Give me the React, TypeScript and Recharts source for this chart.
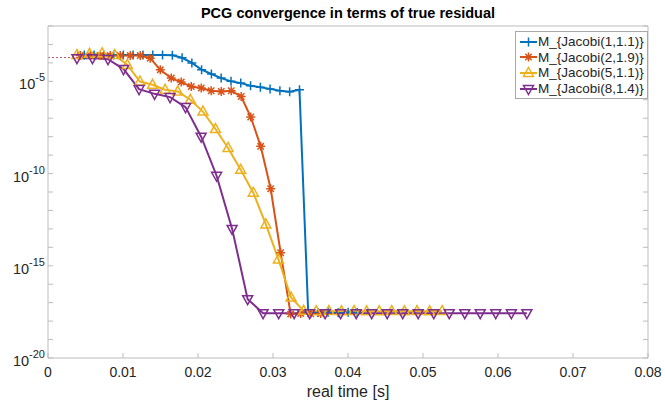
import React from "react";
import { LineChart, Line, XAxis, YAxis, Label } from "recharts";

const X_TICKS = [0, 0.01, 0.02, 0.03, 0.04, 0.05, 0.06, 0.07, 0.08];
const Y_TICKS = [
  1e-20, 1e-19, 1e-18, 1e-17, 1e-16, 1e-15, 1e-14, 1e-13, 1e-12, 1e-11,
  1e-10, 1e-9, 1e-8, 1e-7, 1e-6, 1e-5, 1e-4, 1e-3, 1e-2,
];

// initial residual, dotted
const startT = [0, 0.0039];
const startR = [1.95e-4, 1.95e-4];

const jacobi1T = [
  0.00484, 0.00614, 0.00745, 0.00876, 0.01005, 0.01135, 0.01266, 0.01397, 0.01527, 0.01658,
  0.01788, 0.01918, 0.02048, 0.02179, 0.02309, 0.0244, 0.0257, 0.02701, 0.02832, 0.02961,
  0.03092, 0.03222, 0.03353, 0.03469, 0.03602, 0.03735, 0.03869, 0.04002, 0.04122,
];
const jacobi1R = [
  2.7e-4, 2.7e-4, 2.7e-4, 2.7e-4, 2.7e-4, 2.7e-4, 2.7e-4, 2.7e-4, 2.7e-4, 2.6e-4,
  1.9e-4, 1.0e-4, 4.3e-5, 2.5e-5, 1.5e-5, 1.0e-5, 8e-6, 5.8e-6, 4.8e-6, 3.9e-6,
  3.1e-6, 2.7e-6, 3.5e-6, 3.1e-18, 2.9e-18, 3.0e-18, 2.8e-18, 3.0e-18, 2.9e-18,
];

const jacobi2T = [
  0.0043, 0.00564, 0.00697, 0.0083, 0.00963, 0.01097, 0.0123, 0.01363, 0.01497, 0.01643,
  0.01776, 0.0191, 0.02043, 0.02176, 0.0231, 0.02443, 0.02576, 0.02703, 0.02836, 0.02969,
  0.03102, 0.03236, 0.03369, 0.03502, 0.03635,
];
const jacobi2R = [
  2.5e-4, 2.5e-4, 2.5e-4, 2.5e-4, 2.5e-4, 2.5e-4, 2.5e-4, 1.8e-4, 4.2e-5, 1.5e-5,
  9.1e-6, 5.2e-6, 4.3e-6, 3.1e-6, 2.8e-6, 3.1e-6, 1.5e-6, 1.16e-7, 3.0e-9, 1.5e-11,
  5.1e-15, 2.4e-18, 2.6e-18, 2.5e-18, 2.6e-18,
];

const jacobi5T = [
  0.00386, 0.00554, 0.00722, 0.0089, 0.01058, 0.01226, 0.01394, 0.01562, 0.0173, 0.01898,
  0.02066, 0.02233, 0.02401, 0.02569, 0.02737, 0.02905, 0.03073, 0.03241, 0.03409, 0.03577,
  0.03745, 0.03913, 0.04081, 0.04248, 0.04416, 0.04584, 0.04752, 0.0492, 0.05088, 0.05256,
];
const jacobi5R = [
  2.7e-4, 3.1e-4, 3.3e-4, 2.7e-4, 7.8e-5, 9.8e-6, 6.5e-6, 3.5e-6, 2.8e-6, 1.0e-6,
  2.3e-7, 2.6e-8, 2.45e-9, 1.6e-10, 9.1e-12, 1.75e-13, 2.2e-15, 1.9e-17, 3.6e-18, 3.4e-18,
  3.5e-18, 3.4e-18, 3.5e-18, 3.4e-18, 3.4e-18, 3.5e-18, 3.4e-18, 3.5e-18, 3.4e-18, 3.5e-18,
];

const jacobi8T = [
  0.00386, 0.00593, 0.008, 0.01007, 0.01214, 0.01421, 0.01628, 0.01834, 0.02042, 0.02248,
  0.02455, 0.02662, 0.02868, 0.03076, 0.03282, 0.03489, 0.03695, 0.03902, 0.0411, 0.04316,
  0.04523, 0.0473, 0.04936, 0.05144, 0.0535, 0.05557, 0.05763, 0.0597, 0.06178, 0.06385,
];
const jacobi8R = [
  1.8e-4, 1.8e-4, 1.6e-4, 4.6e-5, 3.8e-6, 2.1e-6, 1.4e-6, 4.0e-7, 1.0e-8, 7.6e-11,
  1.0e-13, 1.55e-17, 2.7e-18, 2.7e-18, 2.7e-18, 2.7e-18, 2.7e-18, 2.7e-18, 2.7e-18, 2.7e-18,
  2.7e-18, 2.7e-18, 2.7e-18, 2.7e-18, 2.7e-18, 2.7e-18, 2.7e-18, 2.7e-18, 2.7e-18, 2.7e-18,
];

const toRows = (t: number[], r: number[]) => t.map((x, i) => ({ t: x, r: r[i] }));

type MarkerKind = "plus" | "star" | "up" | "down";

const SERIES: { name: string; color: string; marker: MarkerKind; data: { t: number; r: number }[] }[] = [
  { name: "M_{Jacobi(1,1.1)}", color: "#0072BD", marker: "plus", data: toRows(jacobi1T, jacobi1R) },
  { name: "M_{Jacobi(2,1.9)}", color: "#D95319", marker: "star", data: toRows(jacobi2T, jacobi2R) },
  { name: "M_{Jacobi(5,1.1)}", color: "#EDB120", marker: "up", data: toRows(jacobi5T, jacobi5R) },
  { name: "M_{Jacobi(8,1.4)}", color: "#7E2F8E", marker: "down", data: toRows(jacobi8T, jacobi8R) },
];

const FONT = "'Liberation Sans', Arial, sans-serif";
const AXIS = "#bdbdbd";
const TEXT = "#262626";

function markerPath(kind: MarkerKind, cx: number, cy: number) {
  const s = 4.5;
  if (kind === "plus") return `M${cx - s},${cy}H${cx + s}M${cx},${cy - s}V${cy + s}`;
  if (kind === "star") {
    const d = 3.2;
    return `M${cx - s},${cy}H${cx + s}M${cx},${cy - s}V${cy + s}M${cx - d},${cy - d}L${cx + d},${cy + d}M${cx - d},${cy + d}L${cx + d},${cy - d}`;
  }
  if (kind === "up") return `M${cx},${cy - 5.5}L${cx + 5},${cy + 3.5}L${cx - 5},${cy + 3.5}Z`;
  return `M${cx},${cy + 5.5}L${cx + 5},${cy - 3.5}L${cx - 5},${cy - 3.5}Z`;
}

const makeDot = (kind: MarkerKind, color: string) => (props: any) => (
  <path
    key={`m-${kind}-${props.index}`}
    d={markerPath(kind, props.cx, props.cy)}
    fill="none"
    stroke={color}
    strokeWidth={1.5}
  />
);

const LeftTick = (props: any) => {
  const { x, y, payload } = props;
  const exp = Math.round(Math.log10(payload.value));
  return (
    <g>
      <line x1={x} x2={x + 5} y1={y} y2={y} stroke={AXIS} />
      {exp % 5 === 0 && (
        <text x={x - 3} y={y + 8} textAnchor="end" fill={TEXT} fontSize={14.5} fontFamily={FONT}>
          10<tspan dy={-8} fontSize={11}>{exp}</tspan>
        </text>
      )}
    </g>
  );
};

const RightTick = (props: any) => (
  <line x1={props.x - 5} x2={props.x} y1={props.y} y2={props.y} stroke={AXIS} />
);

const BottomTick = (props: any) => {
  const { x, y, payload } = props;
  return (
    <g>
      <line x1={x} x2={x} y1={y} y2={y - 5} stroke={AXIS} />
      <text x={x} y={y + 19} textAnchor="middle" fill={TEXT} fontSize={14} fontFamily={FONT}>
        {payload.value}
      </text>
    </g>
  );
};

const TopTick = (props: any) => (
  <line x1={props.x} x2={props.x} y1={props.y} y2={props.y + 5} stroke={AXIS} />
);

function LegendBox() {
  return (
    <div
      style={{
        position: "absolute",
        left: 515,
        top: 31,
        width: 131,
        padding: "2px 0",
        border: "1px solid #a8a8a8",
        background: "#fff",
        fontFamily: FONT,
        fontSize: 13.5,
        color: TEXT,
      }}
    >
      {SERIES.map((s) => (
        <div key={s.name} style={{ display: "flex", alignItems: "center", height: 15.6 }}>
          <svg width={20} height={14} style={{ marginLeft: 2 }}>
            <line x1={2} x2={19} y1={7} y2={7} stroke={s.color} strokeWidth={2} />
            <path d={markerPath(s.marker, 10.5, 7)} fill="none" stroke={s.color} strokeWidth={1.5} />
          </svg>
          <span style={{ whiteSpace: "nowrap" }}>{s.name}</span>
        </div>
      ))}
    </div>
  );
}

export default function App() {
  return (
    <div style={{ position: "absolute", left: 0, top: 0, width: 665, height: 405, background: "#fff" }}>
      <div
        style={{
          position: "absolute",
          left: 48,
          width: 600,
          top: 5,
          textAlign: "center",
          fontFamily: FONT,
          fontWeight: "bold",
          fontSize: 14.5,
          color: "#000",
        }}
      >
        PCG convergence in terms of true residual
      </div>
      <LineChart width={665} height={405} margin={{ top: 25, right: 16, bottom: 7, left: 4 }}>
        <XAxis
          dataKey="t"
          type="number"
          domain={[0, 0.08]}
          ticks={X_TICKS}
          interval={0}
          allowDataOverflow
          height={40}
          tickSize={0}
          tickMargin={0}
          tickLine={false}
          tick={<BottomTick />}
          axisLine={{ stroke: AXIS }}
        >
          <Label value="real time [s]" position="insideBottom" offset={1} fill={TEXT} fontSize={16} fontFamily={FONT} />
        </XAxis>
        <XAxis
          xAxisId="top"
          orientation="top"
          type="number"
          domain={[0, 0.08]}
          ticks={X_TICKS}
          interval={0}
          allowDataOverflow
          height={1}
          tickSize={0}
          tickMargin={0}
          tickLine={false}
          tick={<TopTick />}
          axisLine={{ stroke: AXIS }}
        />
        <YAxis
          dataKey="r"
          type="number"
          scale="log"
          domain={[1e-20, 1e-2]}
          ticks={Y_TICKS}
          interval={0}
          allowDataOverflow
          width={44}
          tickSize={0}
          tickMargin={0}
          tickLine={false}
          tick={<LeftTick />}
          axisLine={{ stroke: AXIS }}
        />
        <YAxis
          yAxisId="right"
          orientation="right"
          type="number"
          scale="log"
          domain={[1e-20, 1e-2]}
          ticks={Y_TICKS}
          interval={0}
          allowDataOverflow
          width={1}
          tickSize={0}
          tickMargin={0}
          tickLine={false}
          tick={<RightTick />}
          axisLine={{ stroke: AXIS }}
        />
        <Line
          data={toRows(startT, startR)}
          dataKey="r"
          stroke="#c0506e"
          strokeWidth={1}
          strokeDasharray="2 2"
          dot={false}
          isAnimationActive={false}
        />
        {SERIES.map((s) => (
          <Line
            key={s.name}
            data={s.data}
            dataKey="r"
            name={s.name}
            stroke={s.color}
            strokeWidth={2}
            dot={makeDot(s.marker, s.color)}
            isAnimationActive={false}
          />
        ))}
      </LineChart>
      <LegendBox />
    </div>
  );
}
